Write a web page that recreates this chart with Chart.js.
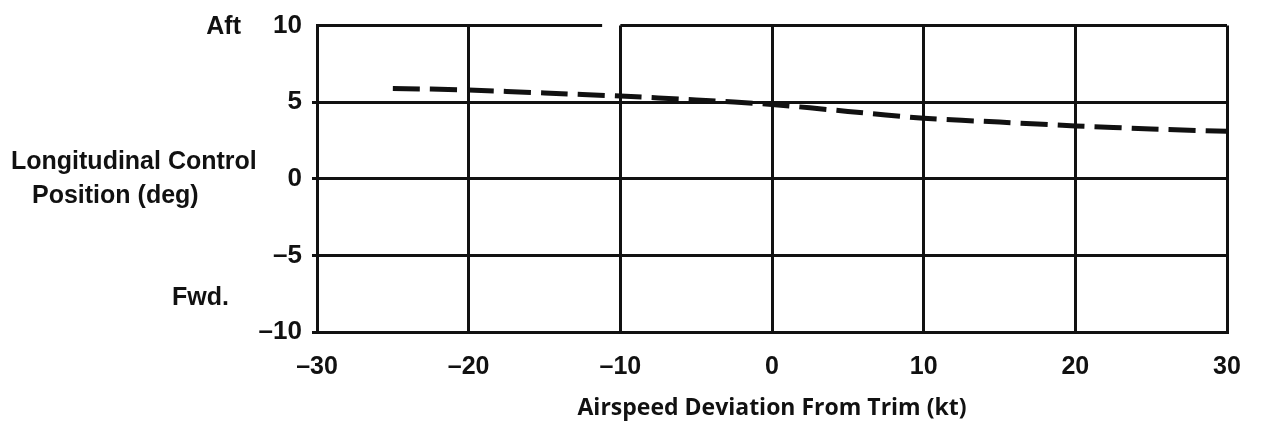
<!DOCTYPE html>
<html>
<head>
<meta charset="utf-8">
<script src="https://cdn.jsdelivr.net/npm/chart.js@4/dist/chart.umd.min.js"></script>
<style>
  html, body { margin: 0; padding: 0; background: #fff; }
  canvas { display: block; }
</style>
</head>
<body>
<canvas id="chart" width="1261" height="444"></canvas>
<script>
// airspeed deviation (kt) and control position (deg)
const speeds = [-25, -20, -15, -10, -5, 0, 5, 10, 15, 20, 25, 30];
const positions = [5.9, 5.8, 5.6, 5.4, 5.15, 4.85, 4.4, 3.95, 3.7, 3.45, 3.25, 3.1];

// top frame of the plot, broken just left of -10
const frameLeftX = [-30, -11.2];
const frameRightX = [-10, 30];
const frameY = 10;

const xTicks = [-30, -20, -10, 0, 10, 20, 30];
const xTickLabels = ['\u201330', '\u201320', '\u201310', '0', '10', '20', '30'];
const yTicks = [-10, -5, 0, 5, 10];
const yTickLabels = ['\u201310', '\u20135', '0', '5', '10'];

const FONT = '"Liberation Sans", Arial, sans-serif';

const sideText = {
    id: 'sideText',
    afterDraw(chart) {
        const ctx = chart.ctx;
        ctx.save();
        ctx.fillStyle = '#111';
        ctx.textBaseline = 'middle';
        ctx.font = 'bold 25px ' + FONT;
        ctx.textAlign = 'left';
        ctx.fillText('Longitudinal Control', 11, 162);
        ctx.fillText('Position (deg)', 32, 196);
        ctx.textAlign = 'right';
        ctx.fillText('Aft', 241, 27);
        ctx.fillText('Fwd.', 229, 298);
        ctx.restore();
    }
};

function seg(xs) {
    return xs.map(x => ({ x: x, y: frameY }));
}

new Chart(document.getElementById('chart'), {
    type: 'line',
    data: {
        datasets: [
            {
                data: speeds.map((s, i) => ({ x: s, y: positions[i] })),
                borderColor: '#111',
                borderWidth: 5,
                borderDash: [27, 10],
                pointRadius: 0,
                tension: 0.2,
                fill: false
            },
            {
                data: seg(frameLeftX),
                borderColor: '#111',
                borderWidth: 3,
                pointRadius: 0,
                borderCapStyle: 'butt',
                clip: false
            },
            {
                data: seg(frameRightX),
                borderColor: '#111',
                borderWidth: 3,
                pointRadius: 0,
                borderCapStyle: 'butt',
                clip: false
            }
        ]
    },
    options: {
        responsive: false,
        animation: false,
        layout: { padding: { top: 22, right: 34, left: 0, bottom: 0 } },
        plugins: {
            legend: { display: false },
            tooltip: { enabled: false }
        },
        scales: {
            x: {
                type: 'linear',
                min: -30,
                max: 30,
                afterBuildTicks: s => { s.ticks = xTicks.map(v => ({ value: v })); },
                afterFit: s => { s.height = 112; },
                grid: {
                    color: '#111',
                    lineWidth: 3,
                    drawTicks: false
                },
                border: { color: '#111', width: 3 },
                ticks: {
                    color: '#111',
                    padding: 20,
                    font: { family: FONT, size: 25, weight: 'bold' },
                    callback: v => xTickLabels[xTicks.indexOf(v)]
                },
                title: {
                    display: true,
                    text: 'Airspeed Deviation From Trim (kt)',
                    color: '#111',
                    font: { family: '"Open Sans", sans-serif', size: 23, weight: 'bold' },
                    padding: { top: 0, bottom: 22 }
                }
            },
            y: {
                type: 'linear',
                min: -10,
                max: 10,
                afterBuildTicks: s => { s.ticks = yTicks.map(v => ({ value: v })); },
                afterFit: s => { s.width = 317; },
                grid: {
                    color: ctx => ctx.tick && ctx.tick.value === frameY ? 'rgba(0,0,0,0)' : '#111',
                    lineWidth: 3,
                    tickLength: 5
                },
                border: { color: '#111', width: 3 },
                ticks: {
                    color: '#111',
                    padding: 10,
                    font: { family: FONT, size: 26, weight: 'bold' },
                    callback: v => yTickLabels[yTicks.indexOf(v)]
                }
            }
        }
    },
    plugins: [sideText]
});
</script>
</body>
</html>
